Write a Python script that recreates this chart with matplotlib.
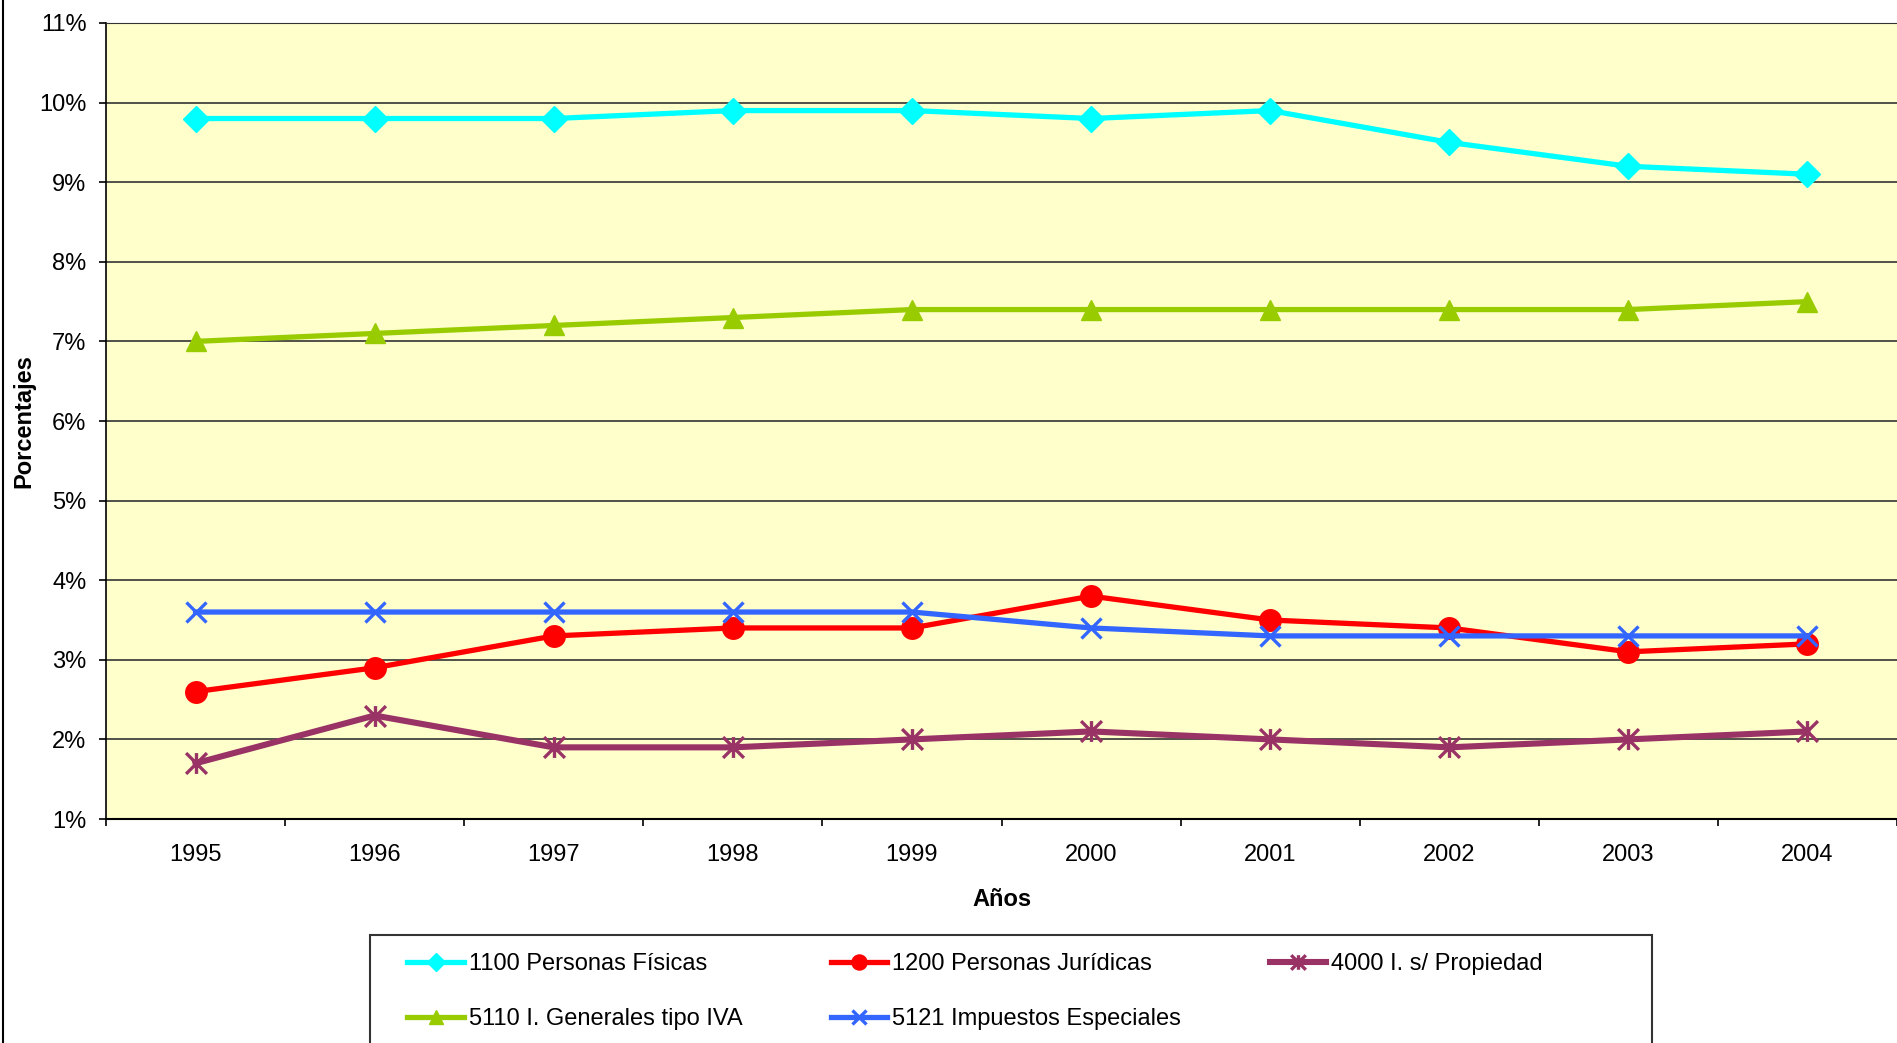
import matplotlib.pyplot as plt
from matplotlib.path import Path
from matplotlib.lines import Line2D
from matplotlib.patches import Rectangle
from matplotlib.ticker import FixedLocator, PercentFormatter

plt.rcParams['font.family'] = ['Liberation Sans', 'DejaVu Sans']

years = ['1995', '1996', '1997', '1998', '1999', '2000', '2001', '2002', '2003', '2004']

personas_fisicas = [9.8, 9.8, 9.8, 9.9, 9.9, 9.8, 9.9, 9.5, 9.2, 9.1]
personas_juridicas = [2.6, 2.9, 3.3, 3.4, 3.4, 3.8, 3.5, 3.4, 3.1, 3.2]
propiedad = [1.7, 2.3, 1.9, 1.9, 2.0, 2.1, 2.0, 1.9, 2.0, 2.1]
generales_iva = [7.0, 7.1, 7.2, 7.3, 7.4, 7.4, 7.4, 7.4, 7.4, 7.5]
impuestos_especiales = [3.6, 3.6, 3.6, 3.6, 3.6, 3.4, 3.3, 3.3, 3.3, 3.3]

labels = ['1100 Personas Físicas', '1200 Personas Jurídicas', '4000 I. s/ Propiedad',
          '5110 I. Generales tipo IVA', '5121 Impuestos Especiales']

# asterisk marker: an X plus a vertical stroke
asterisk = Path([(-1, -1), (1, 1), (-1, 1), (1, -1), (0, -1), (0, 1)],
                [Path.MOVETO, Path.LINETO, Path.MOVETO, Path.LINETO, Path.MOVETO, Path.LINETO])

fig = plt.figure(figsize=(18.97, 10.43), dpi=100)
ax = fig.add_axes([106 / 1897, 1 - 819 / 1043, 1791 / 1897, 796 / 1043])
ax.set_facecolor('#FFFFCC')

x = list(range(len(years)))
lw = 3.8
h1, = ax.plot(x, personas_fisicas, color='#00FFFF', lw=lw, marker='D', ms=13, mec='#00FFFF', label=labels[0], zorder=3)
h2, = ax.plot(x, personas_juridicas, color='#FF0000', lw=lw, marker='o', ms=15.5, label=labels[1], zorder=3)
h3, = ax.plot(x, propiedad, color='#993366', lw=lw + 0.6, marker=asterisk, ms=15, mew=2.4, mfc='none', label=labels[2], zorder=3)
h4, = ax.plot(x, generales_iva, color='#99CC00', lw=lw, marker='^', ms=15, label=labels[3], zorder=3)
h5, = ax.plot(x, impuestos_especiales, color='#3366FF', lw=lw, marker='x', ms=15, mew=2.4, label=labels[4], zorder=3)

ax.set_xlim(-0.5, len(years) - 0.5)
ax.set_ylim(1, 11)
ax.set_yticks(range(1, 12))
ax.yaxis.set_major_formatter(PercentFormatter(decimals=0))
ax.grid(axis='y', color='#333333', lw=1.2, zorder=1)

ax.set_xticks(x)
ax.set_xticklabels(years)
ax.xaxis.set_minor_locator(FixedLocator([i - 0.5 for i in range(len(years) + 1)]))
ax.tick_params(axis='x', which='major', length=0, pad=18, labelsize=17)
ax.tick_params(axis='x', which='minor', length=5, width=1.2, direction='out')
ax.tick_params(axis='y', length=5, width=1.2, pad=9, labelsize=17)

ax.spines['right'].set_visible(False)
ax.spines['top'].set_color('#333333')
ax.spines['left'].set_linewidth(1.2)
ax.spines['bottom'].set_linewidth(1.5)

ax.set_xlabel('Años', fontsize=17, fontweight='bold', labelpad=16)
ax.set_ylabel('Porcentajes', fontsize=17, fontweight='bold', labelpad=3)

# legend box, open at the bottom of the figure
fig.patches.append(Rectangle((370 / 1897, -0.05), 1282 / 1897, 0.05 + (1043 - 935) / 1043,
                             transform=fig.transFigure, facecolor='white',
                             edgecolor='#333333', lw=1.5, zorder=0))
# legend fills column by column, so order handles to read across rows
handles = [h1, h4, h2, h5, h3]
leg = fig.legend(handles=handles, labels=[h.get_label() for h in handles],
                 loc='upper left', bbox_to_anchor=(386 / 1897, 1 - 932 / 1043), ncol=3,
                 frameon=False, fontsize=17, handlelength=2.4, handletextpad=0.2,
                 columnspacing=3.75, labelspacing=1.4, markerscale=0.7)

# chart area border on the left
fig.add_artist(Line2D([2.5 / 1897, 2.5 / 1897], [0, 1], transform=fig.transFigure, color='black', lw=1.5))

fig.savefig('out.png', dpi=100)
